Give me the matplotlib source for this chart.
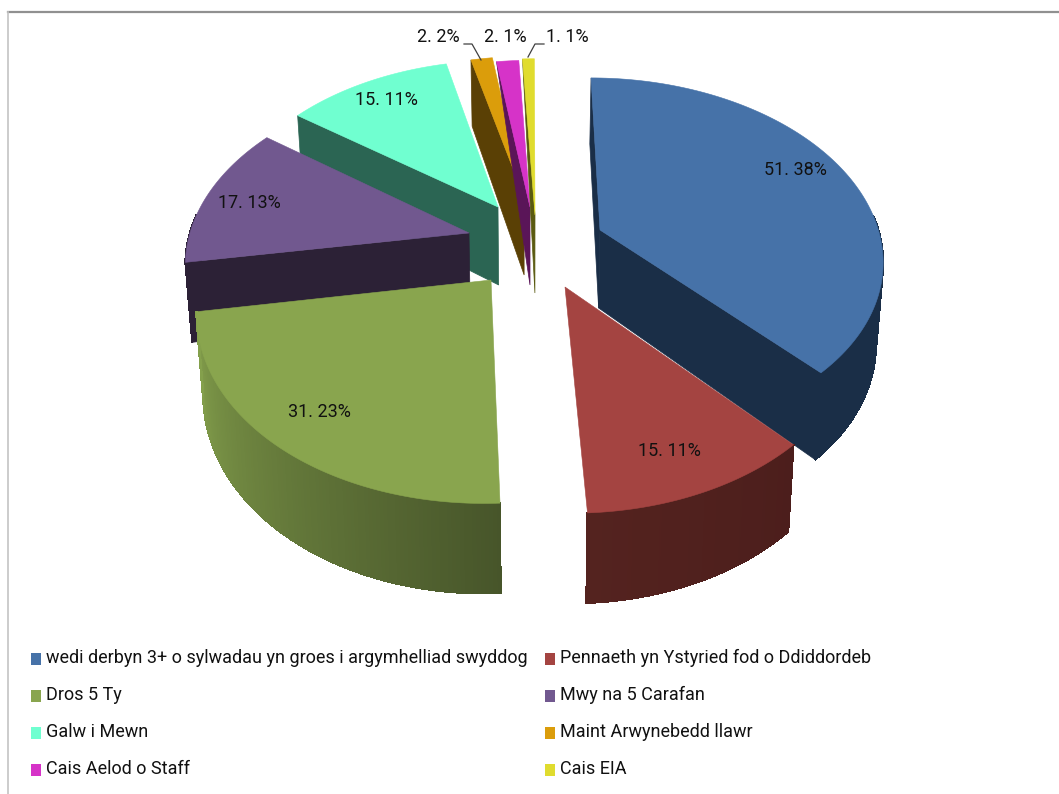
import numpy as np
import matplotlib
matplotlib.use("Agg")
import matplotlib.pyplot as plt
from matplotlib.patches import Polygon, Rectangle
from matplotlib.colors import to_rgb

# ---- data ----
categories = ["wedi derbyn 3+ o sylwadau yn groes i argymhelliad swyddog",
              "Pennaeth yn Ystyried fod o Ddiddordeb", "Dros 5 Ty", "Mwy na 5 Carafan",
              "Galw i Mewn", "Maint Arwynebedd llawr", "Cais Aelod o Staff", "Cais EIA"]
values = [51, 15, 31, 17, 15, 2, 2, 1]
percents = [38, 11, 23, 13, 11, 2, 1, 1]

# ---- style ----
top_colors = ["#4672A8", "#A44441", "#89A54E", "#71588F", "#70FFD0", "#DB9D0B", "#D633C8", "#E0DC2E"]
face_colors = ["#1A2E47", "#4A1E1C", "#4A5A2B", "#2C2136", "#2B6553", "#5A4005", "#5A1558", "#5A5A10"]
rim_start = ["#1A2E47", "#4C1E1C", "#47552A", "#2C2136", "#2B6553", "#5A4005", "#5A1558", "#5A5A10"]
rim_end = ["#1A2E47", "#54231F", "#84A04C", "#2C2136", "#2B6553", "#5A4005", "#5A1558", "#5A5A10"]
apex_px = [(600, 230), (565, 287), (491, 280), (469, 233), (498, 207), (524, 197), (530, 207), (535, 215)]
radius_scale = [1, 1, 1, 1, 1, .97, 1, 1.06]
start_face = [True, False, False, True, True, True, True, True]
end_face = [True, False, False, False, False, False, False, False]
thin_face = [False, False, False, False, False, False, True, True]
draw_order = [4, 3, 2, 5, 6, 7, 0, 1]
label_px = [(795, 170), (669, 451), (319, 412), (249, 203), (386, 100), (438, 37), (505, 37), (567, 37)]
legend_rows = [659, 696, 733, 770]
legend_cols = [31, 545]
START, RX, RY, K, R0, VX, CY = 90.0, 285.0, 180.0, 0.15, 0.985, 530.0, 240.0

plt.rcParams["font.family"] = ["Roboto", "Liberation Sans", "DejaVu Sans"]
fig = plt.figure(figsize=(10.59, 7.94), dpi=100)
ax = fig.add_axes([0, 0, 1, 1])
ax.set_xlim(0, 1059)
ax.set_ylim(794, 0)
ax.axis("off")

ax.plot([8, 1059], [12, 12], color="#909090", lw=1.6)
ax.plot([8, 8], [12, 794], color="#C4C4C4", lw=1.2)


def to_screen(px, py):
    s = 1 / (1 + K * py)
    return np.array([VX + RX * px * s, CY - RY * py * s])


def to_disk(x, y):
    v = (CY - y) / RY
    py = v / (1 - K * v)
    return np.array([(x - VX) * (1 + K * py) / RX, py])


def lower(p, s_):
    """Matching point on the bottom surface."""
    return np.array([VX + (p[0] - VX) * 0.98, p[1] + 78 - 12 * s_])


total = sum(values)
edges = np.radians(START - np.cumsum([0] + values) / total * 360)

for i in draw_order:
    a0, a1 = edges[i], edges[i + 1]
    apex = np.array(apex_px[i], float)
    d = to_disk(*apex)
    r = R0 * radius_scale[i]
    ths = np.linspace(a0, a1, 120)
    rim = np.array([to_screen(d[0] + r * np.cos(t), d[1] + r * np.sin(t)) for t in ths])
    ap_low = lower(apex, 0)
    if start_face[i]:
        p = rim[0]
        if thin_face[i]:
            outline = [apex, p, ap_low]
        else:
            outline = [apex, p, lower(p, np.sin(a0)), ap_low]
        ax.add_patch(Polygon(outline, closed=True, fc=face_colors[i], ec=face_colors[i], lw=.5))
    if end_face[i]:
        p = rim[-1]
        ax.add_patch(Polygon([apex, p, lower(p, np.sin(a1)), ap_low], closed=True, fc=face_colors[i], ec=face_colors[i], lw=.5))
    c0, c1 = np.array(to_rgb(rim_start[i])), np.array(to_rgb(rim_end[i]))
    for j in range(len(ths) - 1):
        if np.sin(ths[j]) > 0.1:
            continue
        f = (j + .5) / (len(ths) - 1)
        col = c0 + (c1 - c0) * f
        p, q = rim[j], rim[j + 1]
        ax.add_patch(Polygon([p, q, lower(q, np.sin(ths[j + 1])), lower(p, np.sin(ths[j]))],
                             closed=True, fc=col, ec=col, lw=.8, antialiased=False))
    ax.add_patch(Polygon(np.vstack([apex, rim]), closed=True, fc=top_colors[i], ec=top_colors[i], lw=.4))

for i, (v, pc) in enumerate(zip(values, percents)):
    ax.text(*label_px[i], f"{v}. {pc}%", ha="center", va="center", fontsize=13, color="#111111")

ax.plot([464, 472, 481], [44, 44, 60], color="#404040", lw=.9)
ax.plot([544, 535, 528], [44, 44, 57], color="#404040", lw=.9)

for i, name in enumerate(categories):
    x = legend_cols[i % 2]
    y = legend_rows[i // 2]
    ax.add_patch(Rectangle((x, y - 6), 10, 12, fc=top_colors[i], ec="none"))
    ax.text(x + 15, y - 1, name, ha="left", va="center", fontsize=13, color="#111111")

fig.savefig("out.png", dpi=100)
